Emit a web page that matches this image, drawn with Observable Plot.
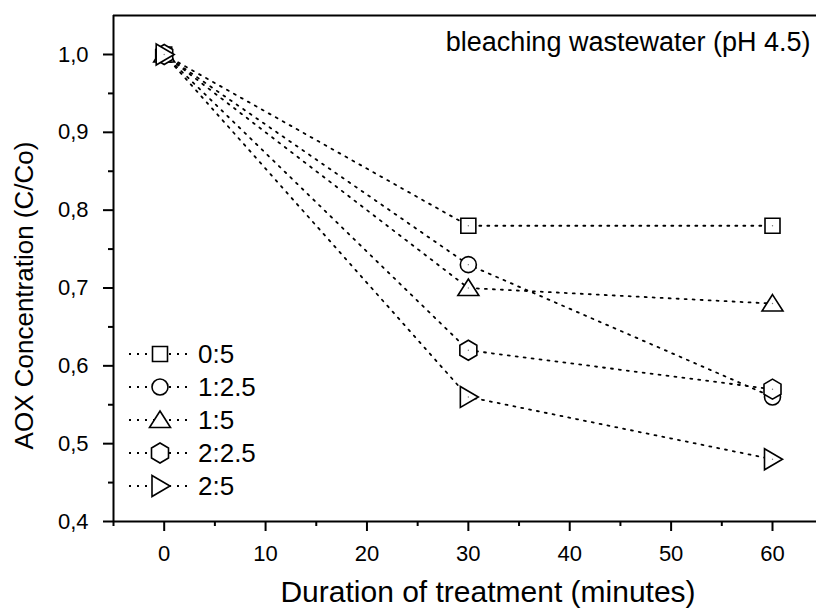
<!DOCTYPE html>
<html><head><meta charset="utf-8">
<script src="https://cdn.jsdelivr.net/npm/d3@7"></script>
<script src="https://cdn.jsdelivr.net/npm/@observablehq/plot@0.6"></script>
<style>
body{margin:0;background:#fff}
#chart svg{font-family:"Liberation Sans",Arial,sans-serif;overflow:visible}
</style>
</head><body><div id="chart"></div>
<script>
// ---- data ----
const times = [0, 30, 60];
const seriesNames = ["0:5", "1:2.5", "1:5", "2:2.5", "2:5"];
const s0_5   = [1.00, 0.78, 0.78];
const s1_2_5 = [1.00, 0.73, 0.56];
const s1_5   = [1.00, 0.70, 0.68];
const s2_2_5 = [1.00, 0.62, 0.57];
const s2_5   = [1.00, 0.56, 0.48];
const xTicks = [0, 10, 20, 30, 40, 50, 60];
const xMinor = [-5, 5, 15, 25, 35, 45, 55];
const yTicks = [0.4, 0.5, 0.6, 0.7, 0.8, 0.9, 1.0];
const yMinor = [0.45, 0.55, 0.65, 0.75, 0.85, 0.95];
const xLabel = "Duration of treatment (minutes)";
const yLabel = "AOX Concentration (C/Co)";
const annotation = "bleaching wastewater (pH 4.5)";

// ---- symbols ----
const symSquare = {draw(c){ c.moveTo(-7.5,-7.5); c.lineTo(7.5,-7.5); c.lineTo(7.5,7.5); c.lineTo(-7.5,7.5); c.closePath(); }};
const symCircle = {draw(c){ c.moveTo(8,0); c.arc(0,0,8,0,2*Math.PI); c.closePath(); }};
const symTriUp  = {draw(c){ c.moveTo(0,-9); c.lineTo(10.5,7.5); c.lineTo(-10.5,7.5); c.closePath(); }};
const symHex    = {draw(c){ c.moveTo(0,-10); c.lineTo(8.5,-5); c.lineTo(8.5,5); c.lineTo(0,10); c.lineTo(-8.5,5); c.lineTo(-8.5,-5); c.closePath(); }};
const symTriRt  = {draw(c){ c.moveTo(-8,-10.5); c.lineTo(10,0); c.lineTo(-8,10.5); c.closePath(); }};
const symbols = [symSquare, symCircle, symTriUp, symHex, symTriRt];
const allSeries = [s0_5, s1_2_5, s1_5, s2_2_5, s2_5];

const data = [];
seriesNames.forEach((name, i) => times.forEach((t, j) => data.push({series: name, idx: i, t, v: allSeries[i][j]})));

const fmt = d => d.toFixed(1).replace(".", ",");
const dash = "2,6";

const marks = [
  // frame lines
  Plot.ruleY([1.0501], {stroke: "#000", strokeWidth: 2}),
  Plot.ruleX([-5], {stroke: "#000", strokeWidth: 2}),
  Plot.ruleY([0.4], {stroke: "#000", strokeWidth: 2}),
  // axes
  Plot.axisX({ticks: xTicks, tickSize: 10, tickPadding: 14, tickFormat: d => String(d), fontSize: 22, strokeWidth: 2, label: null}),
  Plot.axisX({ticks: xMinor, tickSize: 5, tickFormat: () => "", strokeWidth: 2, label: null}),
  Plot.axisY({ticks: yTicks, tickSize: 10, tickPadding: 15, tickFormat: fmt, fontSize: 22, strokeWidth: 2, label: null}),
  Plot.axisY({ticks: yMinor, tickSize: 5, tickFormat: () => "", strokeWidth: 2, label: null}),
];
seriesNames.forEach((name, i) => {
  const rows = data.filter(d => d.idx === i);
  marks.push(Plot.line(rows, {x: "t", y: "v", stroke: "#000", strokeWidth: 1.8, strokeDasharray: dash}));
});
seriesNames.forEach((name, i) => {
  const rows = data.filter(d => d.idx === i);
  marks.push(Plot.dot(rows, {x: "t", y: "v", symbol: symbols[i], r: 5, fill: "#fff", stroke: "#000", strokeWidth: 1.6}));
  marks.push(Plot.dot(rows, {x: "t", y: "v", r: 0.7, fill: "#777", stroke: null}));
});
marks.push(
  Plot.text([annotation], {frameAnchor: "top-right", dx: -6, dy: 16, fontSize: 27, fill: "#000", textAnchor: "end"}),
  Plot.text([yLabel], {frameAnchor: "left", rotate: -90, dx: -89, dy: 27, fontSize: 26, fill: "#000", textAnchor: "middle"}),
  Plot.text([xLabel], {frameAnchor: "bottom", dx: 23, dy: 80, fontSize: 30, fill: "#000", textAnchor: "middle"})
);

const chart = Plot.plot({
  width: 816, height: 609,
  marginLeft: 113, marginRight: 0, marginTop: 15, marginBottom: 88,
  x: {domain: [-5, 64.34]},
  y: {domain: [0.4, 1.0501]},
  style: {fontFamily: "Liberation Sans, Arial, sans-serif", color: "#000", background: "#fff"},
  marks
});

// legend (inside plot area, drawn with d3 onto the Plot svg)
const svg = d3.select(chart);
const lg = svg.append("g").attr("font-family", "Liberation Sans, Arial, sans-serif").attr("font-size", 26).attr("text-anchor", "start");
const legendX0 = 129, legendX1 = 192, legendSym = 160, legendText = 198, legendY0 = 354, legendDy = 33;
seriesNames.forEach((name, i) => {
  const y = legendY0 + i * legendDy;
  lg.append("line").attr("x1", legendX0).attr("x2", legendX1).attr("y1", y).attr("y2", y)
    .attr("stroke", "#000").attr("stroke-width", 1.8).attr("stroke-dasharray", dash);
  lg.append("path").attr("d", d3.symbol(symbols[i])()).attr("transform", `translate(${legendSym},${y})`)
    .attr("fill", "#fff").attr("stroke", "#000").attr("stroke-width", 1.6);
  lg.append("text").attr("x", legendText).attr("y", y).attr("dy", "0.35em").attr("fill", "#000").text(name);
});

document.getElementById("chart").append(chart);
</script>
</body></html>
